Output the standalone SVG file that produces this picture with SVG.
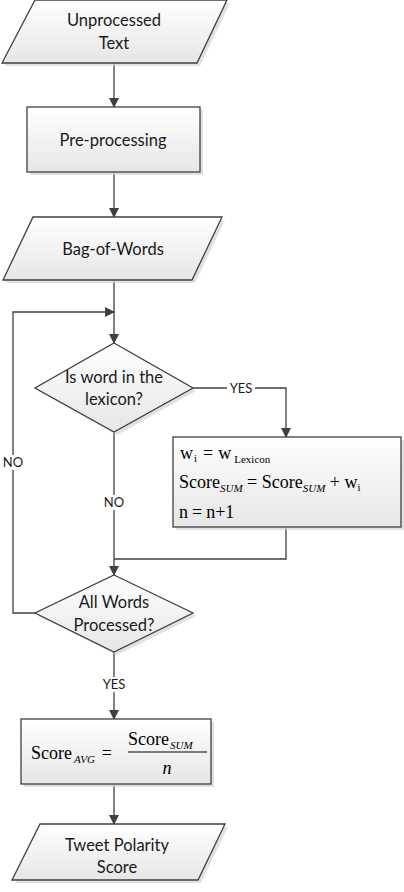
<svg xmlns="http://www.w3.org/2000/svg" width="404" height="892" viewBox="0 0 404 892">
<style>
.shape{fill:url(#g);stroke:#404040;stroke-width:1.3}
.shadow{fill:#d4d4d4;stroke:none;opacity:0.7}
.lbl{font-family:Lato,"Liberation Sans",sans-serif;font-size:16.5px;fill:#1a1a1a;text-anchor:middle}
.small{font-family:Lato,"Liberation Sans",sans-serif;font-size:13px;fill:#1a1a1a;text-anchor:middle}
.m{font-family:"Liberation Serif","Times New Roman",serif;font-size:18px;fill:#000}
.sub{font-size:11px;font-style:italic}
.subu{font-size:11px}
.conn{fill:none;stroke:#404040;stroke-width:1.3}
</style>
<defs>
<linearGradient id="g" x1="0" y1="0" x2="0" y2="1">
<stop offset="0" stop-color="#ffffff"/>
<stop offset="1" stop-color="#e6e6e6"/>
</linearGradient>
<marker id="a" markerWidth="10" markerHeight="10" refX="9" refY="5" orient="auto" markerUnits="userSpaceOnUse">
<path d="M0,0 L10,5 L0,10 Z" fill="#404040"/>
</marker>
</defs>

<g id="connectors">
<line class="conn" x1="114" y1="63" x2="114" y2="107" marker-end="url(#a)"/>
<line class="conn" x1="114" y1="172" x2="114" y2="217" marker-end="url(#a)"/>
<line class="conn" x1="114" y1="280" x2="114" y2="343" marker-end="url(#a)"/>
<polyline class="conn" points="193,388 286,388 286,437" marker-end="url(#a)"/>
<rect x="227" y="381" width="28" height="14" fill="#fff"/>
<text class="small" x="241" y="393">YES</text>
<line class="conn" x1="114" y1="432" x2="114" y2="575" marker-end="url(#a)"/>
<rect x="101" y="495" width="26" height="15" fill="#fff"/>
<text class="small" x="114" y="507">NO</text>
<polyline class="conn" points="286,527 286,559 114,559"/>
<polyline class="conn" points="36,613 13,613 13,312 114,312" marker-end="url(#a)"/>
<rect x="1" y="455" width="24" height="15" fill="#fff"/>
<text class="small" x="13" y="467">NO</text>
<line class="conn" x1="114" y1="652" x2="114" y2="719" marker-end="url(#a)"/>
<rect x="99" y="677" width="30" height="15" fill="#fff"/>
<text class="small" x="114" y="689">YES</text>
<line class="conn" x1="114" y1="784" x2="114" y2="824" marker-end="url(#a)"/>
</g>

<g id="unprocessed">
<polygon class="shadow" points="38,3 230,3 200,66 5,66"/>
<polygon class="shape" points="35,0 227,0 197,63 2,63"/>
<text class="lbl" x="114" y="26">Unprocessed</text>
<text class="lbl" x="114" y="49">Text</text>
</g>

<g id="preprocessing">
<rect class="shadow" x="30" y="110" width="173" height="65"/>
<rect class="shape" x="27" y="107" width="173" height="65"/>
<text class="lbl" x="113" y="146">Pre-processing</text>
</g>

<g id="bagofwords">
<polygon class="shadow" points="36,220 225,220 195,283 6,283"/>
<polygon class="shape" points="33,217 222,217 192,280 3,280"/>
<text class="lbl" x="113" y="255">Bag-of-Words</text>
</g>

<g id="decision1">
<polygon class="shadow" points="117,346 196,391 117,435 38,391"/>
<polygon class="shape" points="114,343 193,388 114,432 35,388"/>
<text class="lbl" x="114" y="383">Is word in the</text>
<text class="lbl" x="114" y="405">lexicon?</text>
</g>

<g id="update">
<rect class="shadow" x="176" y="440" width="228" height="90"/>
<rect class="shape" x="173" y="437" width="228" height="90"/>
<text class="m" x="180" y="459">w<tspan class="subu" dx="1" dy="3">i</tspan><tspan dx="6" dy="-3">=</tspan><tspan dx="5">w</tspan><tspan class="subu" dx="3" dy="4" font-size="12px">Lexicon</tspan></text>
<text class="m" x="179" y="488">Score<tspan class="sub" dy="4">SUM</tspan><tspan dy="-4"> = Score</tspan><tspan class="sub" dy="4">SUM</tspan><tspan dy="-4"> + w</tspan><tspan class="subu" dy="3">i</tspan></text>
<text class="m" x="179" y="518">n<tspan dx="4">=</tspan><tspan dx="4">n+1</tspan></text>
</g>

<g id="decision2">
<polygon class="shadow" points="117,578 196,616 117,655 38,616"/>
<polygon class="shape" points="114,575 193,613 114,652 35,613"/>
<text class="lbl" x="114" y="608">All Words</text>
<text class="lbl" x="114" y="631">Processed?</text>
</g>

<g id="average">
<rect class="shadow" x="24" y="722" width="190" height="65"/>
<rect class="shape" x="21" y="719" width="190" height="65"/>
<text class="m" x="31" y="759" font-size="19px">Score<tspan class="sub" dx="2" dy="4" font-size="12px">AVG</tspan><tspan dx="7" dy="-4">=</tspan></text>
<text class="m" x="128" y="745" font-size="19px">Score<tspan class="sub" dx="1" dy="4" font-size="12px">SUM</tspan></text>
<line x1="128" y1="752" x2="207" y2="752" stroke="#000" stroke-width="1"/>
<text class="m" x="167" y="774" font-size="19px" font-style="italic" text-anchor="middle">n</text>
</g>

<g id="polarity">
<polygon class="shadow" points="43,827 228,827 201,883 15,883"/>
<polygon class="shape" points="40,824 225,824 198,880 12,880"/>
<text class="lbl" x="117" y="851">Tweet Polarity</text>
<text class="lbl" x="117" y="873">Score</text>
</g>
</svg>
